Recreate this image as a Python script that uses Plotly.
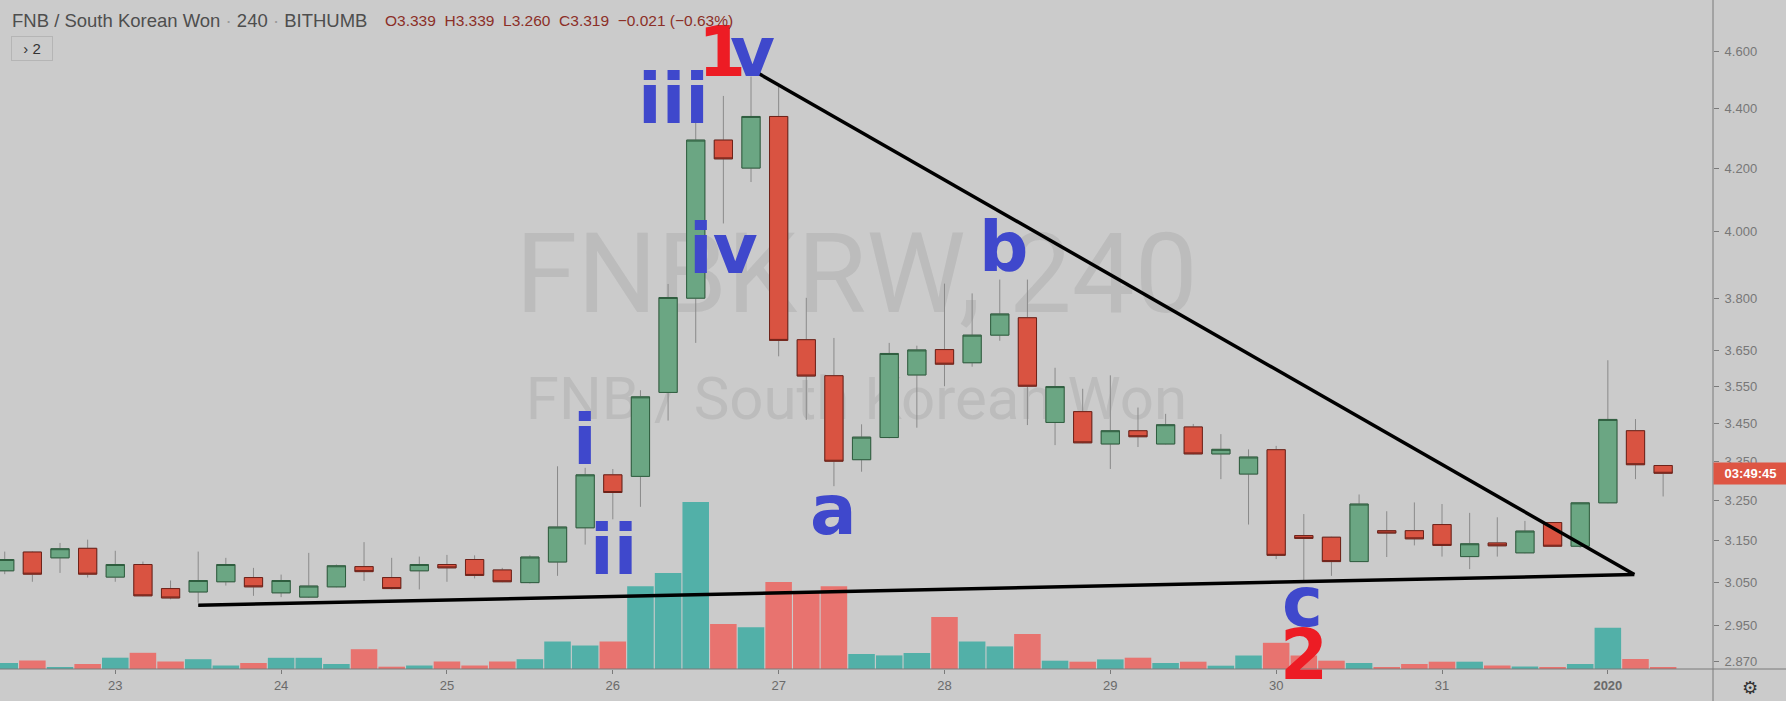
import numpy as np
import pandas as pd
import plotly.graph_objects as go

# ---------------- data ----------------
times = pd.date_range("2019-12-22 08:00", periods=61, freq="4h")

opens = [3.078, 3.123, 3.109, 3.132, 3.063, 3.093, 3.036, 3.028, 3.052, 3.062,
         3.026, 3.016, 3.040, 3.088, 3.062, 3.078, 3.093, 3.105, 3.080, 3.050,
         3.099, 3.182, 3.315, 3.311, 3.533, 3.800, 4.294, 4.202, 4.373, 3.680,
         3.579, 3.354, 3.412, 3.581, 3.652, 3.615, 3.693, 3.743, 3.452, 3.481,
         3.395, 3.430, 3.395, 3.440, 3.369, 3.317, 3.380, 3.163, 3.159, 3.100,
         3.175, 3.175, 3.190, 3.112, 3.145, 3.121, 3.195, 3.137, 3.244, 3.430,
         3.339]
highs = [3.124, 3.125, 3.145, 3.153, 3.126, 3.100, 3.055, 3.124, 3.109, 3.085,
         3.069, 3.121, 3.093, 3.147, 3.109, 3.112, 3.116, 3.115, 3.085, 3.115,
         3.337, 3.333, 3.330, 3.539, 3.842, 4.353, 4.443, 4.510, 4.475, 3.801,
         3.685, 3.447, 3.671, 3.663, 3.843, 3.814, 3.855, 3.855, 3.601, 3.543,
         3.580, 3.492, 3.475, 3.448, 3.421, 3.381, 3.390, 3.216, 3.160, 3.265,
         3.223, 3.245, 3.241, 3.219, 3.208, 3.199, 3.196, 3.245, 3.622, 3.461,
         3.339]
lows = [3.070, 3.052, 3.073, 3.062, 3.052, 3.018, 3.011, 3.003, 3.043, 3.019,
        3.016, 3.014, 3.039, 3.054, 3.034, 3.034, 3.052, 3.060, 3.051, 3.048,
        3.066, 3.141, 3.203, 3.234, 3.457, 3.671, 4.026, 4.157, 3.633, 3.459,
        3.286, 3.323, 3.410, 3.438, 3.550, 3.604, 3.677, 3.445, 3.392, 3.397,
        3.330, 3.387, 3.394, 3.368, 3.304, 3.190, 3.106, 3.056, 3.066, 3.099,
        3.111, 3.139, 3.112, 3.082, 3.112, 3.120, 3.136, 3.133, 3.243, 3.304,
        3.260]
closes = [3.105, 3.070, 3.131, 3.070, 3.093, 3.019, 3.014, 3.055, 3.093, 3.040,
          3.055, 3.042, 3.090, 3.076, 3.036, 3.093, 3.085, 3.067, 3.052, 3.111,
          3.184, 3.315, 3.270, 3.521, 3.802, 4.294, 4.232, 4.373, 3.678, 3.578,
          3.350, 3.413, 3.641, 3.651, 3.611, 3.693, 3.754, 3.550, 3.549, 3.398,
          3.430, 3.414, 3.446, 3.369, 3.381, 3.361, 3.115, 3.156, 3.100, 3.241,
          3.169, 3.155, 3.139, 3.143, 3.138, 3.174, 3.137, 3.244, 3.460, 3.341,
          3.319]
volumes = [6.0, 8.5, 1.2, 5.0, 11.3, 16.2, 7.5, 9.8, 3.5, 6.0,
           11.2, 11.2, 5.0, 19.8, 2.3, 3.5, 7.5, 3.5, 7.5, 9.8,
           27.5, 23.5, 27.5, 82.7, 96.0, 167.0, 45.0, 41.7, 87.0, 78.0,
           82.7, 15.0, 13.6, 16.0, 52.0, 27.5, 22.6, 35.0, 8.3, 7.3,
           9.6, 11.3, 6.0, 7.3, 3.3, 13.5, 26.2, 13.5, 8.3, 6.0,
           1.3, 5.0, 7.3, 7.3, 3.5, 2.5, 1.3, 5.0, 41.3, 10.0,
           1.3]

price_ticks = [2.87, 2.95, 3.05, 3.15, 3.25, 3.35, 3.45, 3.55, 3.65, 3.80, 4.00, 4.20, 4.40, 4.60]
day_ticks = ["2019-12-23", "2019-12-24", "2019-12-25", "2019-12-26", "2019-12-27",
             "2019-12-28", "2019-12-29", "2019-12-30", "2019-12-31", "2020-01-01"]
day_labels = ["23", "24", "25", "26", "27", "28", "29", "30", "31", "<b>2020</b>"]

header_change = "−0.021 (−0.63%)"

# hand-drawn triangle (time, price)
upper_t = ["2019-12-26 20:52", "2020-01-01 03:50"]
upper_p = [4.524, 3.069]
lower_t = ["2019-12-23 12:00", "2020-01-01 03:50"]
lower_p = [2.997, 3.069]

# wave labels (text, time, price, colour)
wave_text = ["i", "ii", "iii", "iv", "v", "a", "b", "c", "1", "2"]
wave_time = ["2019-12-25 19:55", "2019-12-26 00:10", "2019-12-26 08:50", "2019-12-26 16:05",
             "2019-12-26 20:12", "2019-12-27 07:53", "2019-12-28 08:36", "2019-12-30 03:46",
             "2019-12-26 15:48", "2019-12-30 04:02"]
wave_price = [3.406, 3.129, 4.433, 3.947, 4.598, 3.225, 3.952, 3.004, 4.595, 2.883]
BLUE, RED = "#3F48CC", "#ED1C24"
wave_color = [BLUE] * 8 + [RED, RED]

last_close = closes[-1]

# ---------------- figure ----------------
BG = "#cbcbcb"
AX = "#7a7a7a"
up_body, dn_body = "#6ba683", "#d95341"
up_edge, dn_edge = "#2f5e3f", "#6e2219"
vol_up, vol_dn = "#52b0a8", "#e8736f"

x_range = [pd.Timestamp("2019-12-22 07:19"), pd.Timestamp("2020-01-01 15:13")]
x_mid = x_range[0] + (x_range[1] - x_range[0]) / 2
VOL_TOP = 669

o = np.array(opens); c = np.array(closes)
body_hi = np.maximum(o, c)
body_lo = np.minimum(o, c)
vol_colors = [vol_up if cc >= oo else vol_dn for oo, cc in zip(opens, closes)]

fig = go.Figure()
# watermark (behind everything)
fig.add_trace(go.Scatter(x=[x_mid, x_mid], y=[0.5755 * VOL_TOP, 0.396 * VOL_TOP], mode="text",
                         text=["FNBKRW, 240", "FNB / South Korean Won"], yaxis="y",
                         textfont=dict(family="Roboto", size=[112, 60], color="#bcbcbc"),
                         hoverinfo="skip", showlegend=False))
fig.add_trace(go.Bar(x=times, y=volumes, marker=dict(color=vol_colors, line=dict(width=0)),
                     yaxis="y", hoverinfo="skip", showlegend=False))
fig.add_trace(go.Candlestick(
    x=times, open=opens, high=highs, low=lows, close=closes, yaxis="y2",
    increasing=dict(line=dict(color="#8a8a8a", width=1), fillcolor=up_body),
    decreasing=dict(line=dict(color="#8a8a8a", width=1), fillcolor=dn_body),
    whiskerwidth=0, hoverinfo="skip", showlegend=False))
fig.add_trace(go.Candlestick(
    x=times, open=opens, high=body_hi, low=body_lo, close=closes, yaxis="y2",
    increasing=dict(line=dict(color=up_edge, width=1), fillcolor=up_body),
    decreasing=dict(line=dict(color=dn_edge, width=1), fillcolor=dn_body),
    whiskerwidth=0, hoverinfo="skip", showlegend=False))
for tt, pp in ((upper_t, upper_p), (lower_t, lower_p)):
    fig.add_trace(go.Scatter(x=tt, y=pp, mode="lines", yaxis="y2",
                             line=dict(color="black", width=3.5), hoverinfo="skip", showlegend=False))

ann = []
for t, tx, p, col in zip(wave_text, wave_time, wave_price, wave_color):
    ann.append(dict(x=tx, y=np.log10(p), xref="x", yref="y2", text=t, showarrow=False,
                    xanchor="center", yanchor="middle",
                    font=dict(family="DejaVu Sans", size=69, color=col, weight="bold")))

# header
ann.append(dict(x=0.006, y=0.970, xref="paper", yref="paper", xanchor="left", yanchor="middle",
                text="FNB / South Korean Won <span style='color:#9a9a9a'>·</span> 240 <span style='color:#9a9a9a'>·</span> BITHUMB",
                showarrow=False, font=dict(family="Liberation Sans", size=18.5, color="#4e4e4e")))
vals = (f"O{opens[-1]:.3f}\u00a0\u00a0H{highs[-1]:.3f}\u00a0\u00a0L{lows[-1]:.3f}"
        f"\u00a0\u00a0C{closes[-1]:.3f}\u00a0\u00a0{header_change}")
ann.append(dict(x=0.2235, y=0.970, xref="paper", yref="paper", xanchor="left", yanchor="middle",
                text=vals, showarrow=False, font=dict(family="Liberation Sans", size=15.5, color="#8b2f27")))
ann.append(dict(x=0.0185, y=0.9275, xref="paper", yref="paper", xanchor="center", yanchor="middle",
                text="› 2", showarrow=False, bordercolor="#b5b5b5", borderwidth=1, borderpad=3,
                width=34, font=dict(family="Liberation Sans", size=15, color="#333333")))

# last price countdown label
ann.append(dict(x=1.0, y=np.log10(last_close), xref="paper", yref="y2", xanchor="left", yanchor="middle",
                text="<b>03:49:45</b>", showarrow=False, bgcolor="#de5543", borderpad=2, width=69, height=17,
                font=dict(family="Liberation Sans", size=13, color="white")))
# settings gear
ann.append(dict(x=1.0215, y=-0.027, xref="paper", yref="paper", text="⚙", showarrow=False,
                xanchor="center", yanchor="middle", font=dict(family="DejaVu Sans", size=18, color="#333333")))

shapes = [
    dict(type="line", xref="paper", yref="paper", x0=1, x1=1, y0=-0.06, y1=1.0, line=dict(color=AX, width=1)),
    dict(type="line", xref="paper", yref="paper", x0=0, x1=1.05, y0=0, y1=0, line=dict(color=AX, width=1)),
]

fig.update_layout(
    width=1786, height=701,
    margin=dict(l=0, r=73, t=0, b=32),
    paper_bgcolor=BG, plot_bgcolor=BG,
    showlegend=False, bargap=0.04, boxgap=0.34, boxgroupgap=0, boxmode="overlay",
    xaxis=dict(type="date", range=x_range,
               rangeslider=dict(visible=False), showgrid=False, zeroline=False,
               tickmode="array", tickvals=day_ticks, ticktext=day_labels,
               ticks="outside", ticklen=4, tickcolor=AX, showline=False,
               tickfont=dict(family="Liberation Sans", size=13, color="#6a6a6a")),
    yaxis=dict(range=[0, VOL_TOP], visible=False, fixedrange=True),
    yaxis2=dict(type="log", overlaying="y", side="right",
                range=[np.log10(2.853), np.log10(4.785)],
                tickmode="array", tickvals=price_ticks, ticktext=[f"{v:.3f}" for v in price_ticks],
                showgrid=False, zeroline=False, showline=False,
                ticks="outside", ticklen=5, tickcolor=AX, ticklabelstandoff=3,
                tickfont=dict(family="Liberation Sans", size=13, color="#777777")),
    annotations=ann, shapes=shapes,
)

fig.write_html("out.html", config={"displayModeBar": False},
               post_script="document.body.style.margin='0';document.body.style.overflow='hidden';")
